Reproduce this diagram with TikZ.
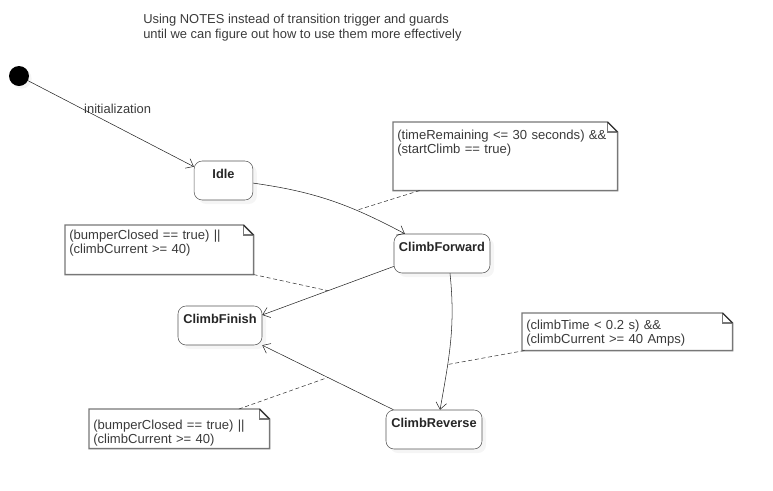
\documentclass[tikz,border=0pt]{standalone}
\usepackage{fontspec}
\setmainfont{Liberation Sans}
\usetikzlibrary{arrows.meta,shadows}
\definecolor{linegray}{HTML}{555555}
\definecolor{notegray}{HTML}{777777}
\definecolor{textgray}{HTML}{3A3A3A}

\begin{document}
\begin{tikzpicture}[x=0.75pt, y=-0.75pt,
    state/.style={draw=linegray, fill=white, rounded corners=6pt, inner sep=0pt,
        font=\fontsize{9.6}{10}\selectfont\bfseries, text=black!85,
        text height=12.75pt, text depth=16.5pt,
        drop shadow={shadow xshift=3pt, shadow yshift=-3pt, fill=black!8}},
    note/.style={anchor=north west, align=left, inner sep=3pt,
        font=\fontsize{9.8}{10.8}\selectfont, text=textgray},
    trans/.style={draw=black!85, -{Straight Barb[length=5pt,width=8pt]}},
    notelink/.style={draw=black!80, dash pattern=on 3pt off 2pt}]
    \useasboundingbox (0,0) rectangle (773,490);
    \tikzset{initial dot/.style={circle, fill=black, minimum size=15pt, inner sep=0pt,
        drop shadow={shadow xshift=2pt, shadow yshift=-2pt, fill=black!8}}};

    \node[anchor=north west, align=left, inner sep=0pt, text=textgray,
        font=\fontsize{9.7}{11.25}\selectfont] (caption) at (143,14)
        {Using NOTES instead of transition trigger and guards\\
         until we can figure out how to use them more effectively};

    % states
    \node[initial dot] (init) at (19,76) {};
    \node[state, minimum width=44pt] (idle) at (223.5,180.5) {Idle};
    \node[state, minimum width=72pt] (forward) at (442,253.5) {ClimbForward};
    \node[state, minimum width=63pt] (finish) at (220,325.5) {ClimbFinish};
    \node[state, minimum width=72pt] (reverse) at (434,429.5) {ClimbReverse};

    % notes
    \node[note, text width=162pt, text height=9.75pt, text depth=35.25pt] (guard1) at (393,122)
        {(timeRemaining <= 30 seconds) \&\&\\(startClimb == true)};
    \node[note, text width=135pt, text height=7.5pt, text depth=23.25pt] (guard2) at (65,225)
        {(bumperClosed == true) ||\\(climbCurrent >= 40)};
    \node[note, text width=151.5pt, text height=9pt, text depth=12.75pt] (guard3) at (522,313)
        {(climbTime < 0.2 s) \&\&\\(climbCurrent >= 40 Amps)};
    \node[note, text width=129pt, text height=12pt, text depth=11.25pt] (guard4) at (89,409)
        {(bumperClosed == true) ||\\(climbCurrent >= 40)};
    \foreach \n in {guard1, guard2, guard3, guard4} {
        \draw[notegray, line width=1.1pt] (\n.north west) -- ([xshift=-7.5pt]\n.north east)
            -- ([yshift=-7.5pt]\n.north east) -- (\n.south east) -- (\n.south west) -- cycle;
        \draw[notegray, line width=0.8pt] ([xshift=-7.5pt]\n.north east) |- ([yshift=-7.5pt]\n.north east);
        \draw[black, thin] ([xshift=-7.5pt]\n.north east) -- ([yshift=-7.5pt]\n.north east);
    }

    % transitions
    \draw[trans] (init) -- node[pos=0.54, yshift=14pt, text=textgray,
        font=\fontsize{9.7}{10}\selectfont] (initlabel) {initialization} (idle.155);
    \draw[trans] (idle.-5) to[out=-8, in=152] coordinate[pos=0.68] (g1) (forward.152);
    \draw[trans] (forward.195) -- coordinate[pos=0.5] (g2) (finish.14);
    \draw[trans] (forward.-68) to[out=-84, in=80] coordinate[pos=0.68] (g3) (reverse.73);
    \draw[trans] (reverse.154) -- coordinate[pos=0.5] (g4) (finish.-25);

    \draw[notelink] ([xshift=20pt]guard1.south west) -- (g1);
    \draw[notelink] (guard2.south east) -- (g2);
    \draw[notelink] ([xshift=2pt]guard3.south west) -- (g3);
    \draw[notelink] ([xshift=-23pt]guard4.north east) -- (g4);
\end{tikzpicture}
\end{document}
